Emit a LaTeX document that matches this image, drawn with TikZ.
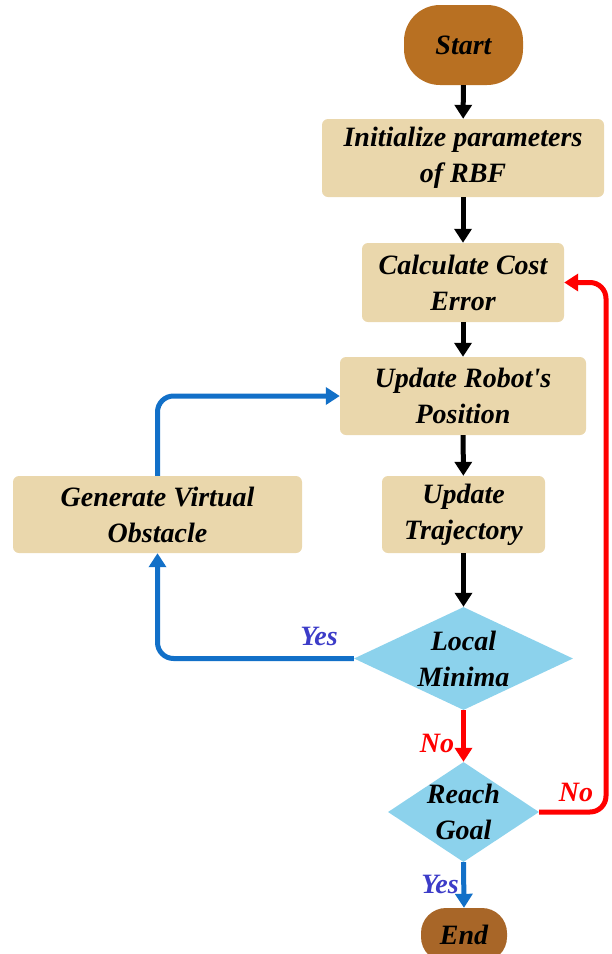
\documentclass[tikz,border=0pt]{standalone}
\usepackage{fontspec}
\setmainfont{Liberation Serif}
\usetikzlibrary{arrows.meta,shapes.geometric}
\definecolor{boxfill}{RGB}{234,215,172}
\definecolor{termfill}{RGB}{184,112,34}
\definecolor{endfill}{RGB}{168,102,40}
\definecolor{diafill}{RGB}{140,210,236}
\definecolor{flowblue}{RGB}{18,112,200}
\definecolor{yestext}{RGB}{60,60,200}
\definecolor{flowred}{RGB}{255,0,0}
\tikzset{
  txt/.style={font=\fontsize{28}{36}\selectfont\bfseries\itshape, align=center},
  procbox/.style={txt, rectangle, rounded corners=6pt, fill=boxfill, inner sep=0pt},
  termbox/.style={txt, rectangle, fill=termfill, inner sep=0pt},
  decbox/.style={diamond, fill=diafill, inner sep=0pt},
  blkarr/.style={line width=5pt, black, -{Triangle[width=17pt,length=14pt]}},
  bluearr/.style={line width=5pt, flowblue, rounded corners=16pt, -{Triangle[width=17pt,length=14pt]}},
  redarr/.style={line width=5pt, flowred, rounded corners=16pt, -{Triangle[width=17pt,length=14pt]}},
  yeslbl/.style={txt, text=yestext},
  nolbl/.style={txt, text=flowred},
}
\begin{document}
\begin{tikzpicture}[x=1pt,y=-1pt]
\useasboundingbox (0,0) rectangle (612,954);
% nodes
\node[termbox, rounded corners=36pt, minimum width=119pt, minimum height=80pt] (start) at (463.5,45) {Start};
\node[procbox, minimum width=282pt, minimum height=78pt] (init) at (463,158) {Initialize parameters\\of RBF};
\node[procbox, minimum width=202pt, minimum height=79pt] (calc) at (463,282.5) {Calculate Cost\\Error};
\node[procbox, minimum width=246pt, minimum height=78pt] (upd) at (463,396) {Update Robot\textquotesingle s\\Position};
\node[procbox, minimum width=163pt, minimum height=77pt] (traj) at (463.5,514.5) {Update\\Trajectory};
\node[procbox, minimum width=289pt, minimum height=77pt] (gen) at (157.5,514.5) {Generate Virtual\\Obstacle};
\node[decbox, minimum width=219pt, minimum height=103pt] (lm) at (463.5,658.5) {};
\node[txt] (lmt) at (lm) {Local\\Minima};
\node[decbox, minimum width=151pt, minimum height=100pt] (rg) at (463.5,812) {};
\node[txt] (rgt) at (rg) {Reach\\Goal};
\node[termbox, rounded corners=25pt, minimum width=86pt, minimum height=54pt, fill=endfill] (end) at (464,935) {End};
\coordinate (rc) at (606,282.5);
% connectors
\draw[blkarr] (start) -- (init);
\draw[blkarr] (init) -- (calc);
\draw[blkarr] (calc) -- (upd);
\draw[blkarr] (upd) -- (traj);
\draw[blkarr] (traj) -- (lm.north);
\draw[bluearr] (lm.west) -| (gen.south);
\draw[bluearr] (gen.north) |- (upd.west);
\draw[redarr, rounded corners=0pt] (lm.south) -- (rg.north);
\draw[redarr] (rg.east) -| (rc) -- (calc.east);
\draw[bluearr, rounded corners=0pt] (rg.south) -- (end.north);
% labels
\node[yeslbl] (y1) at (319,636) {Yes};
\node[nolbl] (n1) at (437,743) {No};
\node[nolbl] (n2) at (576,792) {No};
\node[yeslbl] (y2) at (440,884) {Yes};
\end{tikzpicture}
\end{document}
